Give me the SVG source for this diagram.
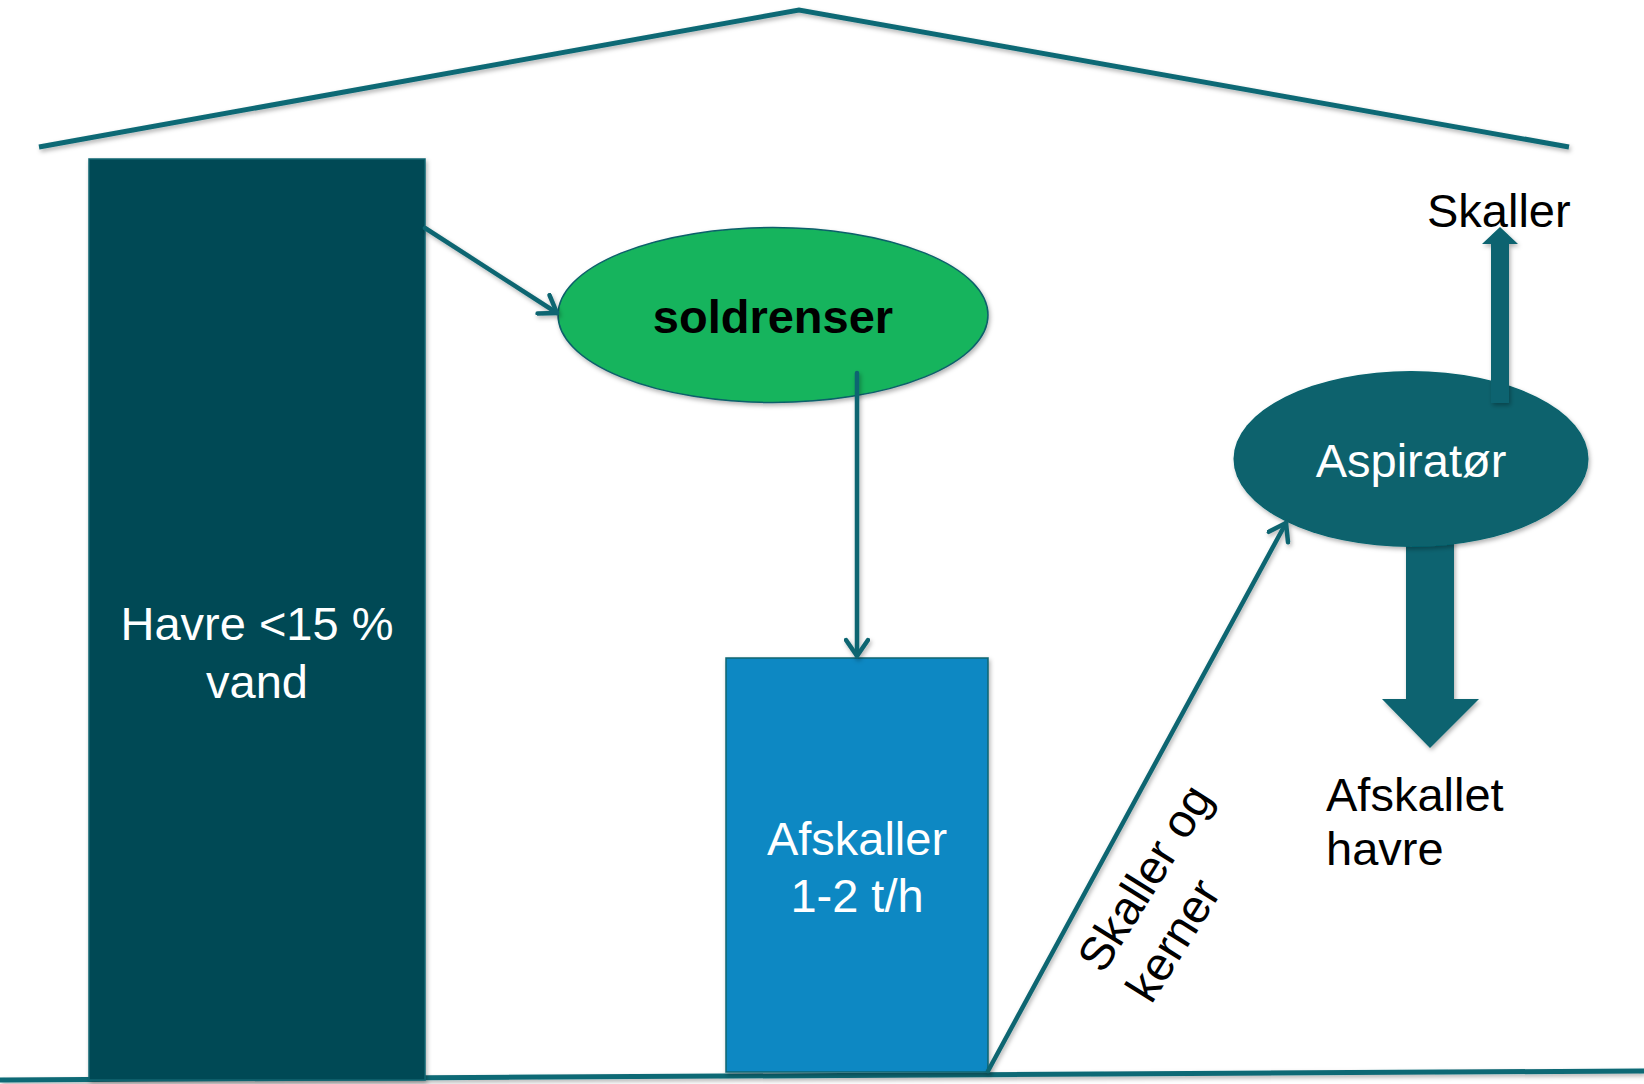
<svg xmlns="http://www.w3.org/2000/svg" width="1644" height="1084" viewBox="0 0 1644 1084">
  <defs>
    <style>
      .t { font-family: "Liberation Sans", Arial, sans-serif; font-size: 47px; }
      .w { fill: #ffffff; }
      .k { fill: #000000; }
      .ln { fill: none; stroke: #0B6571; stroke-width: 4.5; stroke-linecap: round; }
      .bld { fill: none; stroke: #0D6975; stroke-width: 5; stroke-linecap: butt; }
      .blk { fill: #08646F; }
    </style>
    <filter id="sh" filterUnits="userSpaceOnUse" x="0" y="0" width="1644" height="1084">
      <feDropShadow dx="1.5" dy="2.5" stdDeviation="2" flood-color="#000000" flood-opacity="0.3"/>
    </filter>
    <marker id="open" viewBox="0 0 22 26" refX="19" refY="13" markerWidth="22" markerHeight="26" markerUnits="userSpaceOnUse" orient="auto">
      <path d="M3,2 L19,13 L3,24" fill="none" stroke="#0B6571" stroke-width="4.5" stroke-linecap="round" stroke-linejoin="round"/>
    </marker>
  </defs>
  <rect x="0" y="0" width="1644" height="1084" fill="#ffffff"/>

  <g id="building" filter="url(#sh)">
    <polyline class="bld" points="39,147 799,10 1569,147"/>
    <line class="bld" x1="0" y1="1080" x2="1644" y2="1071"/>
  </g>

  <g id="havre">
    <rect x="89" y="159" width="336" height="921" fill="#064A55" stroke="#0B6571" stroke-width="1.5" filter="url(#sh)"/>
    <text class="t w" x="257" y="640" text-anchor="middle">Havre &lt;15 %</text>
    <text class="t w" x="257" y="698" text-anchor="middle">vand</text>
  </g>

  <g id="aspirator-out-down">
    <polygon class="blk" points="1406,530 1454,530 1454,699 1479,699 1430,748 1382,699 1406,699" filter="url(#sh)"/>
  </g>

  <g id="soldrenser">
    <ellipse cx="773" cy="315" rx="215" ry="87.5" fill="#17B45D" stroke="#0B5F6B" stroke-width="1.5" filter="url(#sh)"/>
    <text class="t k" x="773" y="333" text-anchor="middle" font-weight="bold">soldrenser</text>
  </g>

  <g id="afskaller">
    <rect x="726" y="658" width="262" height="414" fill="#0E88C3" stroke="#0B6571" stroke-width="1.5" filter="url(#sh)"/>
    <text class="t w" x="857" y="855" text-anchor="middle">Afskaller</text>
    <text class="t w" x="857" y="912" text-anchor="middle">1-2 t/h</text>
  </g>

  <g id="aspirator">
    <ellipse cx="1411" cy="459" rx="177.5" ry="88" fill="#07626D" filter="url(#sh)"/>
    <text class="t w" x="1411" y="477" text-anchor="middle">Aspiratør</text>
  </g>

  <g id="label-skaller">
    <text class="t k" x="1427" y="227">Skaller</text>
  </g>

  <g id="label-afskallet-havre">
    <text class="t k" x="1326" y="811">Afskallet</text>
    <text class="t k" x="1326" y="865">havre</text>
  </g>

  <g id="connectors" filter="url(#sh)">
    <line class="ln" x1="425" y1="228" x2="557" y2="313" marker-end="url(#open)"/>
    <line class="ln" x1="857" y1="373" x2="857" y2="656" marker-end="url(#open)"/>
    <line class="ln" x1="988" y1="1071" x2="1286" y2="523" marker-end="url(#open)"/>
    <polygon class="blk" points="1491,403 1509,403 1509,244 1518,244 1500,227 1482,244 1491,244"/>
  </g>

  <g id="label-skaller-og-kerner" transform="translate(1103,975) rotate(-58)">
    <text class="t k" x="0" y="0">Skaller og</text>
    <text class="t k" x="0" y="57">kerner</text>
  </g>
</svg>
